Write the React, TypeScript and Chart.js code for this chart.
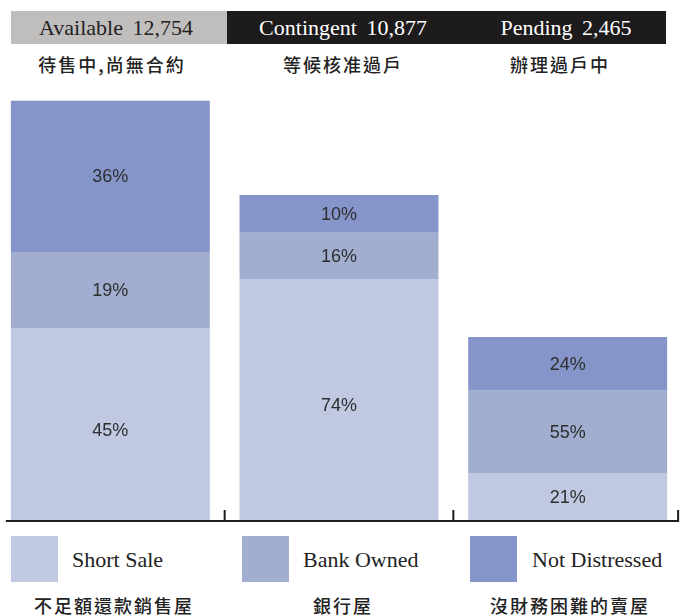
import React, { useEffect, useRef } from "react";
import { Chart, registerables } from "chart.js";

Chart.register(...registerables);

// ---- data ----
const categories = ["Available", "Contingent", "Pending"];
const categoryCounts = ["12,754", "10,877", "2,465"];
const categoryZh = ["待售中,尚無合約", "等候核准過戶", "辦理過戶中"];
const seriesNames = ["Short Sale", "Bank Owned", "Not Distressed"];
const seriesZh = ["不足額還款銷售屋", "銀行屋", "沒財務困難的賣屋"];
// segment heights (relative units, as drawn)
const shortSale = [45.7, 57.4, 11.0];
const bankOwned = [18.1, 11.0, 19.8];
const notDistressed = [36.0, 9.0, 12.8];
// printed labels
const shortSaleLabels = ["45%", "74%", "21%"];
const bankOwnedLabels = ["19%", "16%", "55%"];
const notDistressedLabels = ["36%", "10%", "24%"];

const seriesColors = ["#c1c8e2", "#a2aecf", "#8595c9"];

const SERIF = "'Liberation Serif', 'DejaVu Serif', serif";
const CJK = "'Noto Sans CJK TC', 'Noto Sans CJK SC', sans-serif";

const labelPlugin = {
  id: "segLabels",
  afterDatasetsDraw(chart: any) {
    const ctx = chart.ctx;
    ctx.save();
    ctx.font = "18px 'Liberation Sans', Arial, sans-serif";
    ctx.fillStyle = "#2e2e2e";
    ctx.textAlign = "center";
    ctx.textBaseline = "middle";
    chart.data.datasets.forEach((ds: any, di: number) => {
      const meta = chart.getDatasetMeta(di);
      meta.data.forEach((bar: any, i: number) => {
        const h = bar.base - bar.y;
        const yMid = (bar.y + bar.base) / 2 + (di === 0 && h > 150 ? 6 : 0);
        ctx.fillText(ds.pctLabels[i], bar.x, yMid + 1);
      });
    });
    // axis line with upward ticks
    const meta0 = chart.getDatasetMeta(0);
    const bars = meta0.data;
    const base = bars[0].base;
    const edges = bars.map((b: any) => [b.x - b.width / 2, b.x + b.width / 2]);
    const ticks: number[] = [];
    for (let i = 0; i < edges.length - 1; i++) ticks.push((edges[i][1] + edges[i + 1][0]) / 2);
    ticks.push(edges[edges.length - 1][1] + 11);
    ctx.strokeStyle = "#1e1e1e";
    ctx.lineWidth = 2;
    ctx.beginPath();
    ctx.moveTo(edges[0][0] - 5, base + 1);
    ctx.lineTo(ticks[ticks.length - 1] + 1, base + 1);
    ticks.forEach((t) => {
      ctx.moveTo(t, base + 1);
      ctx.lineTo(t, base - 10);
    });
    ctx.stroke();
    ctx.restore();
  },
};

function ChartCanvas() {
  const ref = useRef<HTMLCanvasElement | null>(null);
  useEffect(() => {
    if (!ref.current) return;
    const series = [shortSale, bankOwned, notDistressed];
    const labels = [shortSaleLabels, bankOwnedLabels, notDistressedLabels];
    const chart = new Chart(ref.current, {
      type: "bar",
      data: {
        labels: categories,
        datasets: series.map((d, i) => ({
          label: seriesNames[i],
          data: d,
          backgroundColor: seriesColors[i],
          borderWidth: 0,
          barPercentage: 0.87,
          categoryPercentage: 1,
          pctLabels: labels[i],
        })) as any,
      },
      options: {
        animation: false,
        responsive: false,
        maintainAspectRatio: false,
        layout: { padding: { top: 10, bottom: 10, left: 0, right: 0 } },
        plugins: { legend: { display: false }, tooltip: { enabled: false } },
        scales: {
          x: { stacked: true, display: false },
          y: { stacked: true, display: false, min: 0, max: 100 },
        },
      },
      plugins: [labelPlugin],
    });
    return () => chart.destroy();
  }, []);
  return (
    <canvas
      ref={ref}
      width={686}
      height={440}
      style={{ position: "absolute", left: -4, top: 90, width: 686, height: 440 }}
    />
  );
}

export default function App() {
  const headerCenters = [116, 343, 566];
  const subCenters = [112, 343, 560];
  const legendSquares = [11, 242, 470];
  const legendText = [72, 303, 532];
  const bottomCenters = [114, 343, 570];
  return (
    <div
      style={{
        position: "absolute",
        left: 0,
        top: 0,
        width: 681,
        height: 616,
        overflow: "hidden",
        background: "#ffffff",
      }}
    >
      <div style={{ position: "absolute", left: 11, top: 11, width: 216, height: 33, background: "#c0bdbd" }} />
      <div style={{ position: "absolute", left: 227, top: 11, width: 439, height: 33, background: "#1d1b1b" }} />
      {categories.map((c, i) => (
        <div
          key={"h" + i}
          style={{
            position: "absolute",
            left: headerCenters[i] - 110,
            width: 220,
            top: 11,
            height: 33,
            lineHeight: "33px",
            textAlign: "center",
            fontFamily: SERIF,
            fontSize: 22,
            wordSpacing: 4,
            color: i === 0 ? "#222222" : "#ffffff",
            whiteSpace: "nowrap",
          }}
        >
          {c} {categoryCounts[i]}
        </div>
      ))}
      {categoryZh.map((t, i) => (
        <div
          key={"z" + i}
          style={{
            position: "absolute",
            left: subCenters[i] - 120,
            width: 240,
            top: 51,
            lineHeight: "26px",
            textAlign: "center",
            fontFamily: CJK,
            fontSize: 18,
            fontWeight: 500,
            letterSpacing: 2,
            color: "#222222",
            whiteSpace: "nowrap",
          }}
        >
          {t}
        </div>
      ))}
      <ChartCanvas />
      {seriesNames.map((n, i) => (
        <React.Fragment key={"l" + i}>
          <div
            style={{
              position: "absolute",
              left: legendSquares[i],
              top: 536,
              width: 47,
              height: 46,
              background: seriesColors[i],
            }}
          />
          <div
            style={{
              position: "absolute",
              left: legendText[i],
              top: 546,
              lineHeight: "28px",
              fontFamily: SERIF,
              fontSize: 22,
              color: "#222222",
              whiteSpace: "nowrap",
            }}
          >
            {n}
          </div>
          <div
            style={{
              position: "absolute",
              left: bottomCenters[i] - 120,
              width: 240,
              top: 592,
              lineHeight: "26px",
              textAlign: "center",
              fontFamily: CJK,
              fontSize: 18,
              fontWeight: 500,
              letterSpacing: 2,
              color: "#222222",
              whiteSpace: "nowrap",
            }}
          >
            {seriesZh[i]}
          </div>
        </React.Fragment>
      ))}
    </div>
  );
}
